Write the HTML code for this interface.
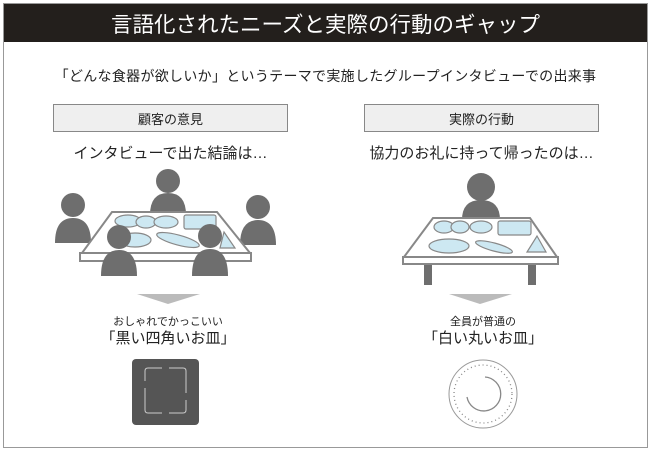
<!DOCTYPE html>
<html><head><meta charset="utf-8"><style>
body{margin:0;width:651px;height:452px;background:#fff;overflow:hidden;font-family:"Liberation Sans","Noto Sans CJK JP",sans-serif;}
.t{position:absolute;white-space:nowrap;color:#222;text-align:center}
</style></head><body>
<div style="position:absolute;left:3px;top:3px;width:643px;height:443px;border:1px solid #999;"></div>
<div style="position:absolute;left:4px;top:4px;width:643px;height:38px;background:#231f1c;"></div>
<div class="t" style="left:4px;top:8px;width:643px;font-size:21.5px;color:#fff;">言語化されたニーズと実際の行動のギャップ</div>
<div class="t" style="left:4px;top:66px;width:643px;font-size:14px;letter-spacing:0.3px;">「どんな食器が欲しいか」というテーマで実施したグループインタビューでの出来事</div>
<div style="position:absolute;left:53px;top:104px;width:233px;height:26px;background:#efefef;border:1px solid #888;"></div>
<div class="t" style="left:53px;top:109px;width:235px;font-size:13px;">顧客の意見</div>
<div style="position:absolute;left:364px;top:104px;width:233px;height:26px;background:#efefef;border:1px solid #888;"></div>
<div class="t" style="left:364px;top:109px;width:235px;font-size:13px;">実際の行動</div>
<div class="t" style="left:53px;top:142px;width:235px;font-size:15px;">インタビューで出た結論は…</div>
<div class="t" style="left:364px;top:142px;width:235px;font-size:15px;">協力のお礼に持って帰ったのは…</div>
<svg width="651" height="452" style="position:absolute;left:0;top:0">
<g fill="#6e6e6e">
<circle cx="168" cy="181" r="12"/><path d="M150 215 Q150 193 168 193 Q186 193 186 215Z"/>
<circle cx="73" cy="205" r="12"/><path d="M55 243 Q55 218 73 218 Q91 218 91 243Z"/>
<circle cx="258" cy="207" r="12"/><path d="M240 245 Q240 220 258 220 Q276 220 276 245Z"/>
</g>
<polygon points="112,212 217,212 250,253 82,253" fill="#fff" stroke="#888" stroke-width="2"/>
<rect x="80" y="253" width="171" height="8" fill="#fff" stroke="#888" stroke-width="2"/>
<g fill="#cde8f2" stroke="#888" stroke-width="1.2">
<ellipse cx="128" cy="221" rx="13" ry="6"/><ellipse cx="146" cy="222" rx="10" ry="6"/>
<ellipse cx="166" cy="222" rx="12" ry="6"/>
<rect x="184" y="215" width="32" height="14" rx="2"/>
<ellipse cx="135" cy="240" rx="16" ry="7"/>
<ellipse cx="178" cy="240" rx="22" ry="5" transform="rotate(15 178 240)"/>
<polygon points="224,232 235,248 220,248"/>
</g>
<g fill="#6e6e6e">
<circle cx="119" cy="237" r="12"/><path d="M101 276 Q101 250 119 250 Q137 250 137 276Z"/>
<circle cx="210" cy="236" r="12"/><path d="M192 276 Q192 249 210 249 Q228 249 228 276Z"/>
<circle cx="481" cy="187" r="14"/><path d="M462 220 Q462 200 481 200 Q500 200 500 220Z"/>
</g>
<polygon points="433,218 530,218 557,257 404,257" fill="#fff" stroke="#888" stroke-width="2"/>
<rect x="403" y="257" width="155" height="7" fill="#fff" stroke="#888" stroke-width="2"/>
<rect x="424" y="265" width="8" height="20" fill="#6e6e6e"/>
<rect x="528" y="265" width="8" height="20" fill="#6e6e6e"/>
<g fill="#cde8f2" stroke="#888" stroke-width="1.2">
<ellipse cx="444" cy="227" rx="10" ry="6"/><ellipse cx="460" cy="227" rx="9" ry="6"/>
<ellipse cx="481" cy="227" rx="11" ry="6"/>
<rect x="498" y="221" width="33" height="14" rx="2"/>
<ellipse cx="449" cy="246" rx="20" ry="7"/>
<ellipse cx="494" cy="247" rx="19" ry="4" transform="rotate(15 494 247)"/>
<polygon points="537,236 546,252 527,252"/>
</g>
<polygon points="137,294 200,294 168,304" fill="#bbb"/>
<polygon points="449,294 512,294 480,304" fill="#bbb"/>
<rect x="132" y="359" width="67" height="66" rx="4" fill="#555"/>
<path d="M145 381 v-10 q0-3 3-3 h14 M169 368 h14 q3 0 3 3 v22 M186 400 v10 q0 3-3 3 h-14 M162 413 h-14 q-3 0-3-3 v-22" fill="none" stroke="#ccc" stroke-width="1"/>
<circle cx="483" cy="394" r="34" fill="#fff" stroke="#999" stroke-width="1"/>
<circle cx="483" cy="394" r="29" fill="none" stroke="#888" stroke-width="1.3" stroke-dasharray="1 3"/>
<path d="M485 377 A17 17 0 1 1 467 397" fill="none" stroke="#888" stroke-width="1.3"/>
</svg>
<div class="t" style="left:68px;top:313px;width:200px;font-size:11px;">おしゃれでかっこいい</div>
<div class="t" style="left:68px;top:327px;width:200px;font-size:15px;">「黒い四角いお皿」</div>
<div class="t" style="left:383px;top:313px;width:200px;font-size:11px;">全員が普通の</div>
<div class="t" style="left:383px;top:327px;width:200px;font-size:15px;">「白い丸いお皿」</div>
</body></html>
